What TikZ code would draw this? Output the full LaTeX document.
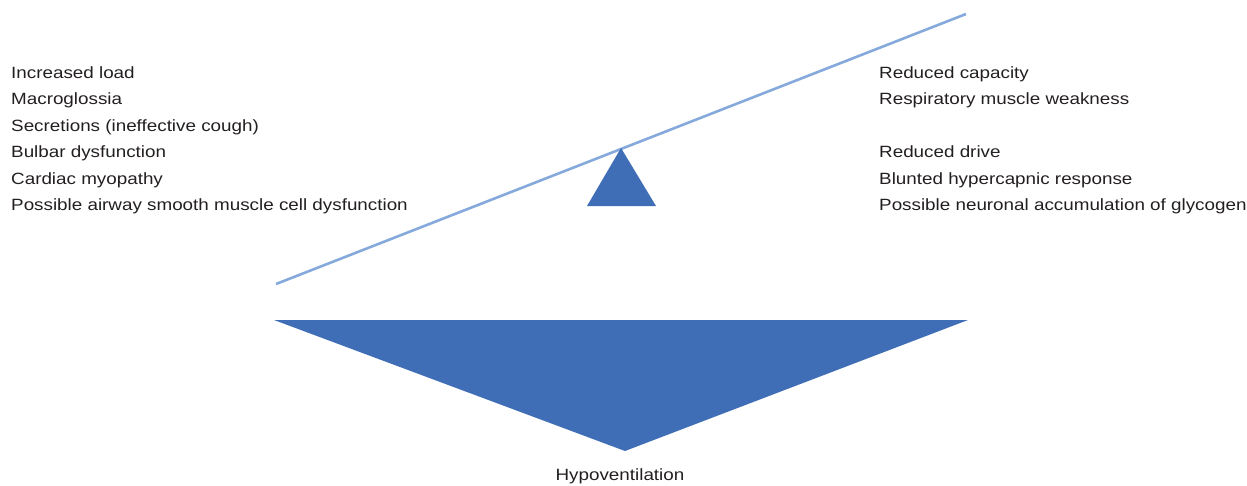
\documentclass[tikz,border=0pt]{standalone}
\usepackage{fontspec}
\setmainfont[FakeStretch=1.155]{Liberation Sans}
\definecolor{tri}{HTML}{3F6EB7}
\definecolor{beam}{HTML}{86A9DC}
\definecolor{txt}{HTML}{231F20}
\begin{document}
\begin{tikzpicture}[x=1pt,y=-1pt,
  lbl/.style={anchor=base west,inner sep=0pt,text=txt,font=\fontsize{16.3}{19}\selectfont},
  lblc/.style={anchor=base,inner sep=0pt,text=txt,font=\fontsize{16.3}{19}\selectfont}]
\useasboundingbox (0,0) rectangle (1247,485);
% beam
\coordinate (bl) at (276,284);
\coordinate (br) at (966,14);
\draw[beam,line width=2.6pt] (bl) -- (br);
% fulcrum
\fill[tri] (621,148) -- (656,206) -- (587,206) -- cycle;
% big triangle
\fill[tri] (274,320) -- (968,320) -- (625,451) -- cycle;
% left texts
\node[lbl] (l1) at (11,78.3) {Increased load};
\node[lbl] (l2) at (11,104.8) {Macroglossia};
\node[lbl] (l3) at (11,131.3) {Secretions (ineffective cough)};
\node[lbl] (l4) at (11,157.8) {Bulbar dysfunction};
\node[lbl] (l5) at (11,184.3) {Cardiac myopathy};
\node[lbl] (l6) at (11,210.8) {Possible airway smooth muscle cell dysfunction};
% right texts
\node[lbl] (r1) at (879,78.3) {Reduced capacity};
\node[lbl] (r2) at (879,104.8) {Respiratory muscle weakness};
\node[lbl] (r3) at (879,157.8) {Reduced drive};
\node[lbl] (r4) at (879,184.3) {Blunted hypercapnic response};
\node[lbl] (r5) at (879,210.8) {Possible neuronal accumulation of glycogen};
% bottom
\node[lblc] (h) at (620,480.7) {Hypoventilation};
\end{tikzpicture}
\end{document}
